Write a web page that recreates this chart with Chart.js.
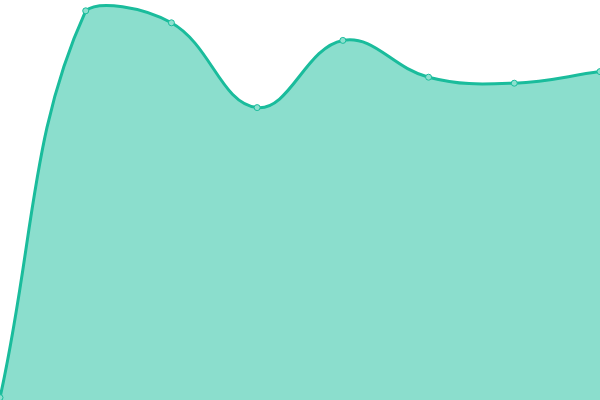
<!DOCTYPE html>
<html>
<head>
<meta charset="utf-8">
<script src="https://cdn.jsdelivr.net/npm/chart.js@4"></script>
<style>
  body { margin: 0; background: #fff; }
  #wrap { width: 600px; height: 400px; }
</style>
</head>
<body>
<div id="wrap"><canvas id="myChart"></canvas></div>
<script>
const labels = ["1", "2", "3", "4", "5", "6", "7", "8"]
const values = [0.6, 97.3, 94.3, 73.1, 89.9, 80.7, 79.2, 82.1]

const data = {
    labels: labels,
    datasets: [{
        data: values,
        fill: true,
        backgroundColor: "rgba(24, 190, 155, 0.5)",
        borderColor: "#1abc9c",
        borderWidth: 3,
        tension: 0.4,
        pointRadius: 3,
        pointBorderWidth: 1,
        pointBackgroundColor: "#8ee0cf",
        pointBorderColor: "#1abc9c"
    }]
};

const options = {
    responsive: true,
    maintainAspectRatio: false,
    animation: false,
    layout: { padding: 0, autoPadding: false },
    scales: {
        x: { display: false },
        y: { display: false, min: 0, max: 100 }
    },
    plugins: {
        legend: { display: false },
        tooltip: { enabled: false }
    }
};

const ctx = document.getElementById("myChart").getContext("2d");
const myChart = new Chart(ctx, {
    type: "line",
    data: data,
    options: options
});
</script>
</body>
</html>
